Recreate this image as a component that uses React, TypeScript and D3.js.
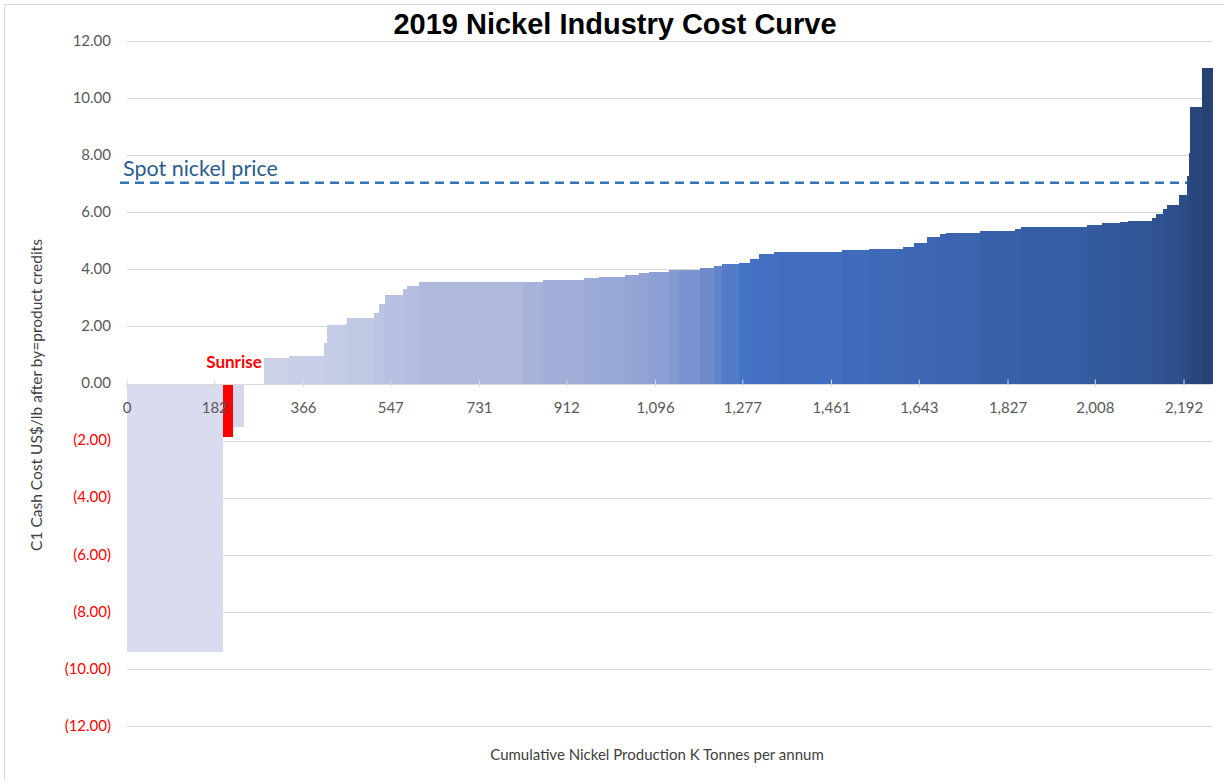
import React from 'react';
import * as d3 from 'd3';

// Production per operation (K tonnes per annum), ordered along the cost curve
const production = [198.5, 22, 22, 41.5, 52.5, 72, 7, 36.7, 4, 56, 10.4, 11.8, 37.3, 8.3, 24.9, 216.7, 42, 85, 30.5, 54, 29, 20.7, 41.5, 21.4, 43, 27.6, 17.4, 34.4, 22.8, 20.7, 30.5, 11, 130.6, 55.4, 71.1, 22.2, 27.6, 26.3, 12.4, 70.5, 72.6, 11.8, 136.9, 32.3, 36.7, 17.2, 48.5, 7.9, 14.5, 10, 24.9, 15.3, 4.8, 2.1, 24.3, 22];
// C1 cash cost US$/lb after by-product credits
const cost = [-9.39, -1.89, -1.52, 0, 0.88, 0.98, 1.43, 2.05, 2.1, 2.3, 2.46, 2.79, 3.11, 3.32, 3.41, 3.56, 3.57, 3.61, 3.69, 3.73, 3.8, 3.87, 3.92, 3.96, 3.99, 4.05, 4.11, 4.17, 4.22, 4.36, 4.53, 4.6, 4.62, 4.67, 4.71, 4.77, 4.94, 5.12, 5.23, 5.27, 5.35, 5.41, 5.48, 5.54, 5.61, 5.66, 5.7, 5.8, 5.95, 6.12, 6.24, 6.61, 7.26, 8.08, 9.69, 11.06];
const highlightName = 'Sunrise';
const highlightIndex = 1;
const spotPrice = 7.03;
const xTicks = [0, 182, 366, 547, 731, 912, 1096, 1277, 1461, 1643, 1827, 2008, 2192];
const yTicks = [-12, -10, -8, -6, -4, -2, 0, 2, 4, 6, 8, 10, 12];
const colorStops = [0, 200, 285, 460, 580, 820, 1100, 1190, 1240, 1280, 1560, 1810, 2060, 2180, 2250];
const colorValues = ['#d9dcee', '#d9dcee', '#cdd2e9', '#c3cae5', '#b5bfe0', '#a8b4da', '#8ea1d4', '#7590cd', '#5a7fc8', '#4472c4', '#3e69b8', '#3961aa', '#33589b', '#2e4f8c', '#24406f'];

const W = 1224;
const H = 780;

export default function App() {
  const x = d3.scaleLinear().domain([0, 2250]).range([127, 1212]);
  const y = d3.scaleLinear().domain([-12, 12]).range([726, 41]);
  const color = d3.scaleLinear<string>().domain(colorStops).range(colorValues).interpolate(d3.interpolateRgb);

  const starts = d3.cumsum([0, ...production]);
  const bars = production.map((p, i) => ({
    x0: starts[i],
    x1: starts[i] + p,
    v: cost[i],
  }));

  const fmt = d3.format('.2f');
  const labelFont = 'Lato, "Open Sans", sans-serif';
  const hb = bars[highlightIndex];

  return (
    <svg width={W} height={H} style={{ position: 'absolute', left: 0, top: 0, background: '#fff' }}>
      <rect x={0} y={0} width={W} height={H} fill="#fff" />
      {/* frame */}
      <line x1={4.5} y1={4.5} x2={W} y2={4.5} stroke="#d9d9d9" strokeWidth={1} />
      <line x1={4.5} y1={4.5} x2={4.5} y2={H} stroke="#d9d9d9" strokeWidth={1} />

      {/* gridlines */}
      {yTicks.map((t) => (
        <line key={t} x1={127} x2={1212} y1={Math.round(y(t)) + 0.5} y2={Math.round(y(t)) + 0.5} stroke="#d9d9d9" strokeWidth={1} />
      ))}

      {/* y tick labels */}
      {yTicks.map((t) => (
        <text key={'yl' + t} x={111} y={y(t) + 1} textAnchor="end" dominantBaseline="middle" fontFamily={labelFont} fontSize={15}
          fill={t < 0 ? '#ff0000' : '#595959'}>
          {t < 0 ? `(${fmt(-t)})` : fmt(t)}
        </text>
      ))}

      {/* spot price line */}
      <line x1={120} x2={1212} y1={y(spotPrice)} y2={y(spotPrice)} stroke="#2e75b6" strokeWidth={2.5} strokeDasharray="9,6" />
      <text x={123} y={y(spotPrice) - 7} fontFamily={labelFont} fontSize={21.5} fill="#2b5c8f">Spot nickel price</text>

      {/* bars */}
      {bars.map((b, i) => {
        const x0 = x(b.x0);
        const x1 = x(b.x1);
        const top = Math.min(y(b.v), y(0));
        const h = Math.abs(y(b.v) - y(0));
        const fill = i === highlightIndex ? '#ff0000' : color((b.x0 + b.x1) / 2);
        return <rect key={i} x={x0} y={top} width={Math.max(0, x1 - x0) + (i === highlightIndex ? 0 : 0.4)} height={h} fill={fill} shapeRendering="crispEdges" />;
      })}
      {/* redraw highlight on top */}
      <rect x={x(hb.x0)} y={y(0)} width={x(hb.x1) - x(hb.x0)} height={y(hb.v) - y(0)} fill="#ff0000" shapeRendering="crispEdges" />

      {/* x axis line */}
      <line x1={127} x2={1212} y1={Math.round(y(0)) + 0.5} y2={Math.round(y(0)) + 0.5} stroke="#d9d9d9" strokeWidth={1} />
      {xTicks.map((t) => (
        <g key={'xt' + t}>
          <line x1={x(t)} x2={x(t)} y1={y(0) - 4} y2={y(0) + 4} stroke="#d9d9d9" strokeWidth={1} />
          <text x={x(t)} y={413} textAnchor="middle" fontFamily={labelFont} fontSize={15} fill="#595959">
            {d3.format(',')(t)}
          </text>
        </g>
      ))}

      {/* highlight label */}
      <text x={(x(hb.x0) + x(hb.x1)) / 2 + 6} y={368} textAnchor="middle" fontFamily={labelFont} fontWeight="bold" fontSize={17} fill="#ff0000">
        {highlightName}
      </text>

      {/* title */}
      <text x={615} y={34} textAnchor="middle" fontFamily='"Liberation Sans", Arial, sans-serif' fontWeight="bold" fontSize={29} fill="#000">
        2019 Nickel Industry Cost Curve
      </text>

      {/* axis titles */}
      <text transform={`translate(42,395) rotate(-90)`} textAnchor="middle" fontFamily={labelFont} fontSize={15.5} fill="#404040">
        C1 Cash Cost US$/lb after by=product credits
      </text>
      <text x={657} y={760} textAnchor="middle" fontFamily={labelFont} fontSize={15} fill="#404040">
        Cumulative Nickel Production K Tonnes per annum
      </text>
    </svg>
  );
}
